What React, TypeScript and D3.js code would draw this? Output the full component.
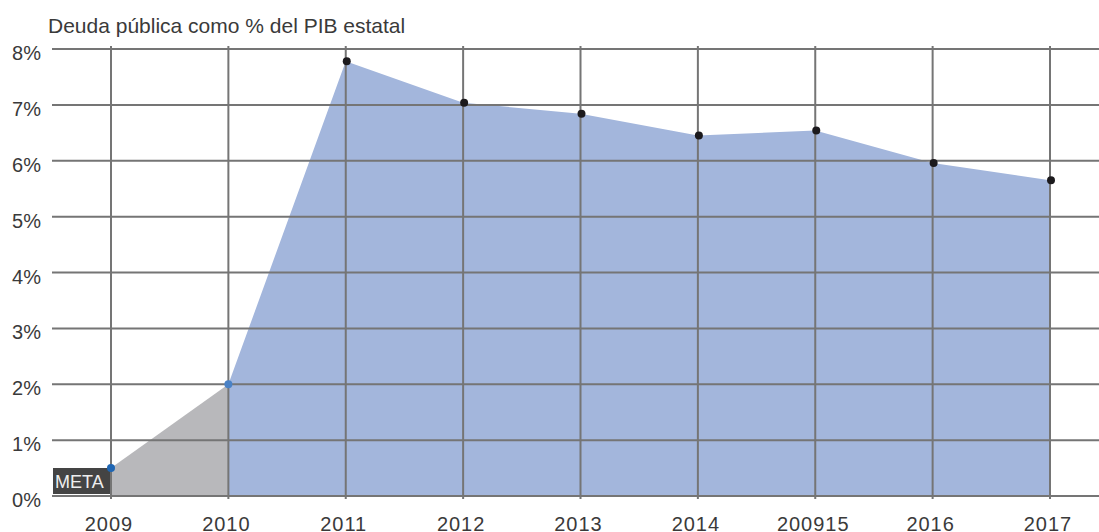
import React from "react";
import * as d3 from "d3";

const categories = ["2009", "2010", "2011", "2012", "2013", "2014", "200915", "2016", "2017"];
const values = [0.5, 2.0, 7.78, 7.04, 6.84, 6.45, 6.54, 5.96, 5.65];
const metaCount = 2; // first two points are the "META" (gray) segment
const yTicks = [0, 1, 2, 3, 4, 5, 6, 7, 8];
const title = "Deuda pública como % del PIB estatal";

const W = 1099;
const H = 532;
const FONT = "'Liberation Sans', 'Helvetica Neue', Arial, sans-serif";

export default function App() {
  const x = d3.scalePoint<string>().domain(categories).range([111, 1050]);
  const y = d3.scaleLinear().domain([0, 8]).range([496, 49]);
  const pts = categories.map((c, i) => ({ c, v: values[i], i }));

  const area = d3
    .area<{ c: string; v: number }>()
    .x((d) => x(d.c) as number)
    .y0(y(0))
    .y1((d) => y(d.v));

  const grayPts = pts.slice(0, metaCount);
  const bluePts = pts.slice(metaCount - 1);

  const gridColor = "#757575";
  const textColor = "#3a3a3a";

  return (
    <svg
      width={W}
      height={H}
      style={{ position: "absolute", left: 0, top: 0, background: "#fff" }}
    >
      <text x={48} y={33} fontFamily={FONT} fontSize={21} fill={textColor}>
        {title}
      </text>
      <path d={area(grayPts) || ""} fill="#b8b8bb" />
      <path d={area(bluePts) || ""} fill="#a3b6dc" />
      {yTicks.map((t) => (
        <g key={"y" + t}>
          <line x1={52} x2={W} y1={y(t)} y2={y(t)} stroke={gridColor} strokeWidth={2} />
          <text
            x={41}
            y={y(t) + 11}
            textAnchor="end"
            fontFamily={FONT}
            fontSize={20}
            fill={textColor}
          >
            {t}%
          </text>
        </g>
      ))}
      {categories.map((c) => (
        <g key={"x" + c}>
          <line
            x1={x(c) as number}
            x2={x(c) as number}
            y1={46}
            y2={499}
            stroke={gridColor}
            strokeWidth={2}
          />
          <text
            x={(x(c) as number) - 2}
            y={531}
            textAnchor="middle"
            fontFamily={FONT}
            fontSize={20}
            letterSpacing={1}
            fill={textColor}
          >
            {c}
          </text>
        </g>
      ))}
      <rect x={53} y={468} width={57} height={26} fill="#444" />
      <text x={55} y={488} fontFamily={FONT} fontSize={18} fill="#eee">
        META
      </text>
      {pts.map((p) => (
        <circle
          key={"p" + p.c}
          cx={(x(p.c) as number) + (p.i < metaCount ? 0 : 1)}
          cy={y(p.v)}
          r={4}
          fill={p.i < metaCount ? (p.i === 0 ? "#1f66b3" : "#4a82c6") : "#1c1a1d"}
        />
      ))}
    </svg>
  );
}
